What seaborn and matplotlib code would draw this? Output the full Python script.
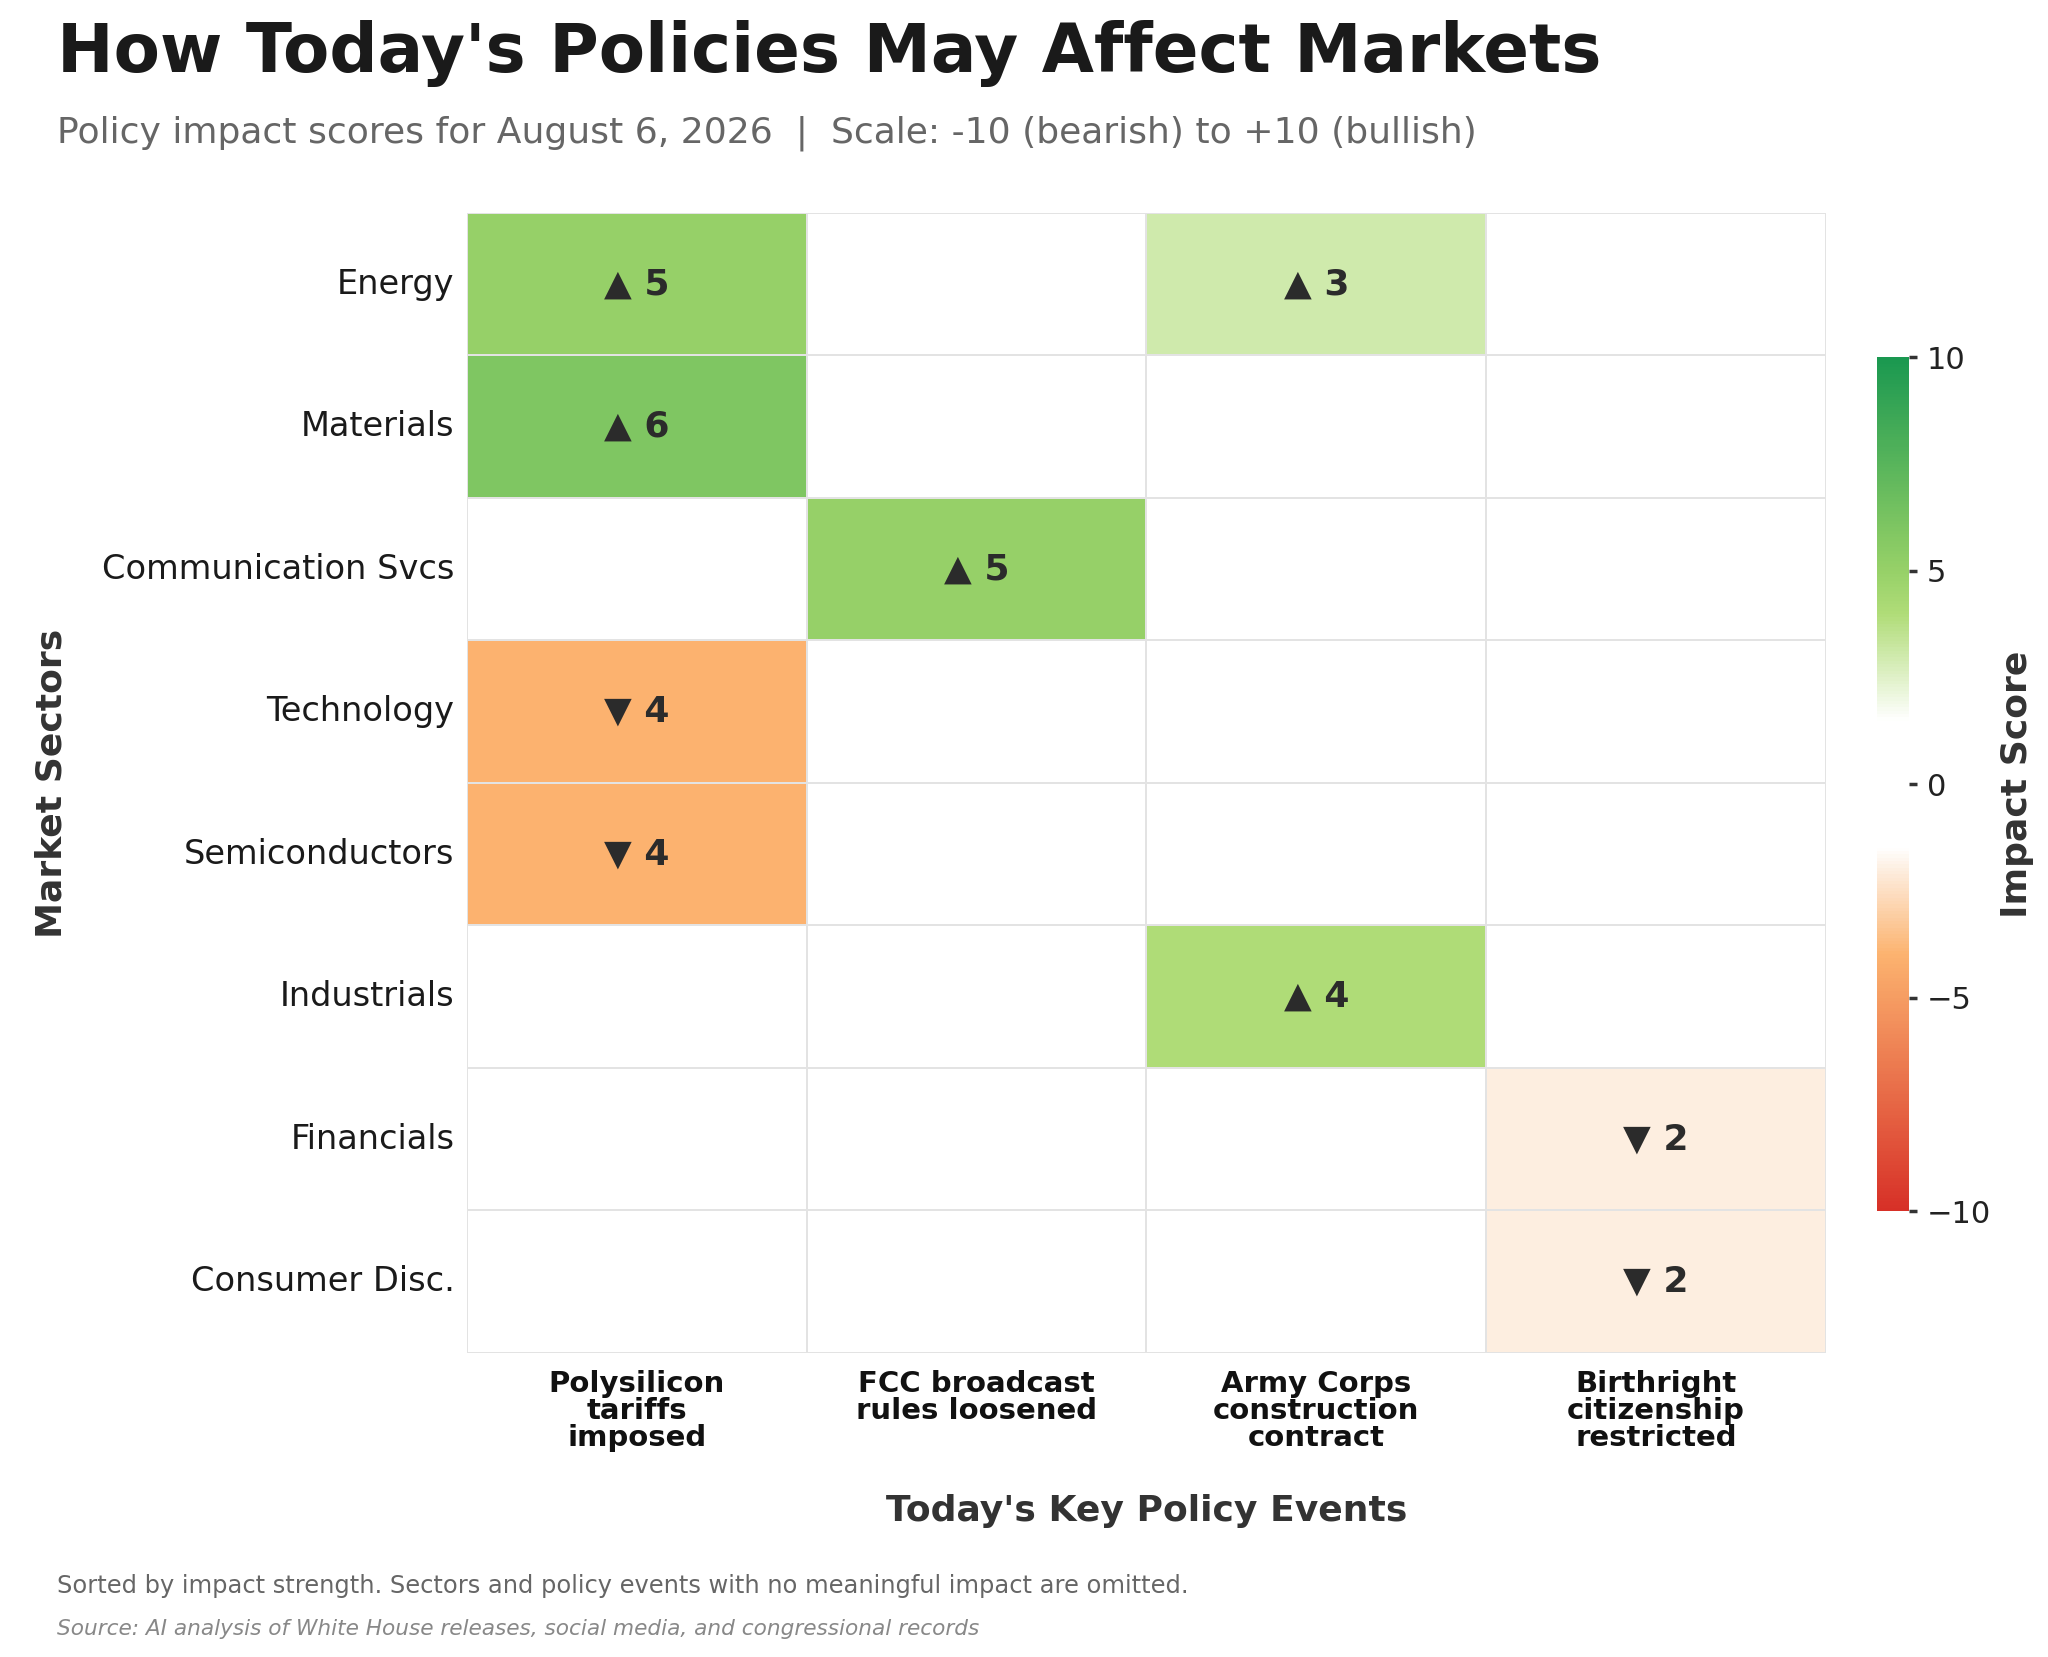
import numpy as np
import pandas as pd
import seaborn as sns
import matplotlib.pyplot as plt
from matplotlib.colors import LinearSegmentedColormap

sns.set_theme(style="white")
plt.rcParams['font.family'] = ['DejaVu Sans']

# Data
sectors = ["Energy", "Materials", "Communication Svcs", "Technology",
           "Semiconductors", "Industrials", "Financials", "Consumer Disc."]
events = ["Polysilicon\ntariffs\nimposed", "FCC broadcast\nrules loosened",
          "Army Corps\nconstruction\ncontract", "Birthright\ncitizenship\nrestricted"]
polysilicon = [5, 6, 0, -4, -4, 0, 0, 0]
fcc = [0, 0, 5, 0, 0, 0, 0, 0]
army_corps = [3, 0, 0, 0, 0, 4, 0, 0]
birthright = [0, 0, 0, 0, 0, 0, -2, -2]

df = pd.DataFrame({events[0]: polysilicon, events[1]: fcc,
                   events[2]: army_corps, events[3]: birthright}, index=sectors)

# annotation text: arrow + magnitude, blank when no impact
labels = df.map(lambda v: "" if v == 0 else ("\u25B2 " if v > 0 else "\u25BC ") + str(abs(v)))

# diverging map with a white band round zero
nodes = [(-10, "#d73027"), (-4, "#fcb36f"), (-2, "#fdeee0"), (-1.5, "#ffffff"),
         (1.5, "#ffffff"), (3, "#d0eaad"), (4, "#b0dc78"), (5, "#97d168"),
         (6, "#7fc662"), (10, "#1a9850")]
cmap = LinearSegmentedColormap.from_list(
    "impact", [((v + 10) / 20, c) for v, c in nodes])

fig = plt.figure(figsize=(10.24, 8.285), dpi=200)
ax = fig.add_axes([0.228, 0.1835, 0.6636, 0.688])
cax = fig.add_axes([0.9165, 0.269, 0.0156, 0.5155])

sns.heatmap(df, ax=ax, cbar_ax=cax, cmap=cmap, vmin=-10, vmax=10, center=0,
            annot=labels, fmt="", linewidths=0.6, linecolor="#e3e3e3",
            annot_kws={"fontsize": 13, "fontweight": "bold", "color": "#2b2b2b"},
            cbar_kws={"ticks": [-10, -5, 0, 5, 10]})

ax.tick_params(axis="y", length=0, pad=4.5)
ax.tick_params(axis="x", length=0, pad=6)
ax.set_yticklabels(sectors, rotation=0, fontsize=12.1, color="#1a1a1a")
ax.set_xticklabels(events, rotation=0, fontsize=10.5, fontweight="bold",
                   color="#111111", linespacing=0.97)
ax.set_ylabel("Market Sectors", fontsize=13, fontweight="bold", color="#333333", labelpad=12)
ax.set_xlabel("Today's Key Policy Events", fontsize=13, fontweight="bold",
              color="#333333", labelpad=15)

cax.tick_params(labelsize=11, length=3, color="#333333", labelcolor="#222222")
cax.set_ylabel("Impact Score", fontsize=13, fontweight="bold", color="#333333", labelpad=3)
for s in cax.spines.values():
    s.set_visible(False)

fig.text(0.028, 0.988, "How Today's Policies May Affect Markets", fontsize=24.3,
         fontweight="bold", color="#1a1a1a", va="top", ha="left")
fig.text(0.028, 0.93, "Policy impact scores for August 6, 2026  |  Scale: -10 (bearish) to +10 (bullish)",
         fontsize=13, color="#666666", va="top", ha="left")
fig.text(0.028, 0.043, "Sorted by impact strength. Sectors and policy events with no meaningful impact are omitted.",
         fontsize=8.7, color="#666666", va="center", ha="left")
fig.text(0.028, 0.017, "Source: AI analysis of White House releases, social media, and congressional records",
         fontsize=7.8, color="#888888", style="italic", va="center", ha="left")

fig.savefig("out.png", dpi=200, facecolor="white")
